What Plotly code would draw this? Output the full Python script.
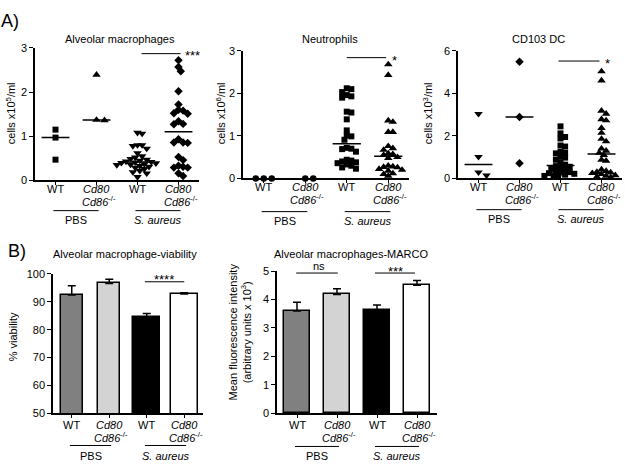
import numpy as np
import plotly.graph_objects as go

# ---------------- data ----------------
CATEGORIES = ["WT", "Cd80 Cd86-/-", "WT", "Cd80 Cd86-/-"]
LABEL_LINE1 = ["WT", "<i>Cd80</i>", "WT", "<i>Cd80</i>"]
LABEL_LINE2 = ["", "<i>Cd86</i><sup>-/-</sup>", "", "<i>Cd86</i><sup>-/-</sup>"]
TREATMENTS = ["PBS", "<i>S. aureus</i>"]

# Alveolar macrophages (cells x10^5/ml)
am_wt_pbs = [1.15, 0.97, 0.47]
am_ko_pbs = [2.39, 1.36, 1.37]
am_wt_sa = [1.08, 1.06, 0.80, 0.80, 0.78, 0.72, 0.62, 0.55, 0.52, 0.49, 0.47, 0.45, 0.43, 0.42,
            0.41, 0.40, 0.39, 0.37, 0.36, 0.35, 0.33, 0.31, 0.29, 0.26, 0.22, 0.19, 0.16, 0.08]
am_ko_sa = [2.72, 2.57, 2.47, 2.02, 1.72, 1.60, 1.58, 1.52, 1.51, 1.34, 1.28, 1.27,
            0.93, 0.86, 0.86, 0.85, 0.53, 0.46, 0.33, 0.31, 0.29, 0.29, 0.16, 0.10]

# Neutrophils (cells x10^6/ml)
neu_wt_pbs = [0.0, 0.0, 0.0]
neu_ko_pbs = [0.0, 0.0]
neu_wt_sa = [2.12, 2.10, 2.03, 1.96, 1.93, 1.90, 1.57, 1.55, 1.39, 1.13, 1.01, 0.99, 0.91,
             0.72, 0.70, 0.69, 0.63, 0.44, 0.42, 0.40, 0.38, 0.36, 0.33, 0.30, 0.26, 0.23]
neu_ko_sa = [2.68, 2.43, 1.36, 1.33, 1.09, 1.09, 0.76, 0.71, 0.67, 0.59, 0.57, 0.55,
             0.50, 0.48, 0.30, 0.28, 0.27, 0.26, 0.22, 0.20, 0.18, 0.12, 0.10, 0.06]

# CD103 DC (cells x10^3/ml)
dc_wt_pbs = [3.04, 1.02, 0.29, 0.15]
dc_ko_pbs = [5.49, 2.89, 0.72]
dc_wt_sa = [2.45, 2.12, 1.95, 1.88, 1.55, 1.50, 1.25, 1.20, 1.18, 1.02, 0.98, 0.88, 0.75, 0.65,
            0.58, 0.55, 0.50, 0.45, 0.40, 0.35, 0.30, 0.28, 0.25, 0.22, 0.18, 0.15, 0.12, 0.08]
dc_ko_sa = [5.03, 4.60, 3.18, 3.04, 2.78, 2.73, 2.37, 2.14, 1.86, 1.74, 1.40, 1.30, 1.20,
            1.10, 0.88, 0.83, 0.42, 0.35, 0.30, 0.28, 0.25, 0.20, 0.15, 0.12, 0.08, 0.05]

# Bar panels
viab_mean = [92.5, 96.6, 84.5, 92.8]
viab_sem = [3.3, 1.5, 1.3, 0.5]
marco_mean = [3.60, 4.18, 3.63, 4.50]
marco_sem = [0.30, 0.20, 0.18, 0.17]

# ---------------- helpers ----------------
W, H = 625, 470
FONT = "Arial, Liberation Sans, sans-serif"


def px(xp):
    return xp / W


def py(yp):
    return 1 - yp / H


def swarm(vals, ppy, ppx):
    """simple beeswarm layout (pixel space) -> horizontal offsets in category units"""
    vals = np.asarray(vals, float)
    d = 8.0 if len(vals) <= 4 else 4.6
    ys = vals * ppy
    xs = np.zeros(len(vals))
    placed = []
    cands = [0.0]
    for j in range(1, 40):
        cands += [j * d * 0.5, -j * d * 0.5]
    for i in np.argsort(-vals, kind="stable"):
        for c in cands:
            if all((c - a) ** 2 + (ys[i] - b) ** 2 >= d * d for a, b in placed):
                break
        xs[i] = c
        placed.append((c, ys[i]))
    return xs / ppx


fig = go.Figure()
axis_common = dict(showline=True, linecolor="black", linewidth=1.5, ticks="outside",
                   tickcolor="black", tickwidth=1.2, showgrid=False, zeroline=False,
                   tickfont=dict(family=FONT, size=11, color="black"))

annotations = []
shapes = []


def text(x, y, t, size=11, xref="paper", yref="paper", angle=0, xanchor="center",
         yanchor="middle"):
    annotations.append(dict(x=x, y=y, text=t, xref=xref, yref=yref, showarrow=False,
                            textangle=angle, xanchor=xanchor, yanchor=yanchor,
                            font=dict(family=FONT, size=size, color="black")))


def line(x0, x1, y0, y1, xref, yref, w=1):
    shapes.append(dict(type="line", x0=x0, x1=x1, y0=y0, y1=y1, xref=xref, yref=yref,
                       line=dict(color="black", width=w)))


panels_scatter = [
    ("x", "y", [am_wt_pbs, am_ko_pbs, am_wt_sa, am_ko_sa],
     ["square", "triangle-up", "triangle-down", "diamond"], (35, 199), (179, 43), 3, [0, 1, 2, 3]),
    ("x2", "y2", [neu_wt_pbs, neu_ko_pbs, neu_wt_sa, neu_ko_sa],
     ["circle", "circle", "square", "triangle-up"], (243, 409), (177, 46), 3, [0, 1, 2, 3]),
    ("x3", "y3", [dc_wt_pbs, dc_ko_pbs, dc_wt_sa, dc_ko_sa],
     ["triangle-down", "diamond", "square", "triangle-up"], (458, 622), (177, 46), 6, [0, 2, 4, 6]),
]
SYM_SIZE = {"square": 6, "triangle-up": 7.5, "triangle-down": 7.5, "diamond": 6.5, "circle": 6.5}

layout_axes = {}
for k, (xa, ya, groups, syms, dx, dy, ymax, yt) in enumerate(panels_scatter):
    ppx = (dx[1] - dx[0]) / 4.0
    ppy = (dy[0] - dy[1]) / ymax
    for i, (vals, sym) in enumerate(zip(groups, syms)):
        off = swarm(vals, ppy, ppx)
        fig.add_trace(go.Scatter(x=i + off, y=vals, mode="markers", xaxis=xa, yaxis=ya,
                                 cliponaxis=False, name=CATEGORIES[i],
                                 marker=dict(symbol=sym, size=SYM_SIZE[sym], color="black",
                                             line=dict(width=0))))
        med = float(np.median(vals))
        if med > 0:
            fig.add_trace(go.Scatter(x=[i - 0.34, i + 0.34], y=[med, med], mode="lines",
                                     xaxis=xa, yaxis=ya, cliponaxis=False,
                                     line=dict(color="black", width=1.5)))
    n = "" if k == 0 else str(k + 1)
    layout_axes["xaxis" + n] = dict(axis_common, domain=[px(dx[0]), px(dx[1])], range=[-0.5, 3.5],
                                    anchor=ya, tickvals=[0, 1, 2, 3], showticklabels=False,
                                    ticklen=3)
    layout_axes["yaxis" + n] = dict(axis_common, domain=[py(dy[0]), py(dy[1])], range=[0, ymax],
                                    anchor=xa, tickvals=yt, ticklen=4)
    base = dy[0]
    for i in range(4):
        text(i, py(base + 9), LABEL_LINE1[i], xref=xa)
        if LABEL_LINE2[i]:
            text(i + 0.05, py(base + 21), LABEL_LINE2[i], xref=xa)

# Bar panels
bar_panels = [
    ("x4", "y4", viab_mean, viab_sem, (53, 203), (418, 275), [50, 100], [50, 60, 70, 80, 90, 100],
     [0.58, 0.58, 0.72, 0.72]),
    ("x5", "y5", marco_mean, marco_sem, (277, 437), (418, 272), [0, 5], [0, 1, 2, 3, 4, 5],
     [0.65, 0.65, 0.65, 0.65]),
]
BAR_COLORS = ["#808080", "#d3d3d3", "#000000", "#ffffff"]
for k, (xa, ya, mean, sem, dx, dy, yr, yt, wd) in enumerate(bar_panels):
    fig.add_trace(go.Bar(x=[0, 1, 2, 3], y=mean, width=wd, xaxis=xa, yaxis=ya,
                         marker=dict(color=BAR_COLORS, line=dict(color="black", width=1.5)),
                         error_y=dict(type="data", array=sem, arrayminus=[0] * 4, symmetric=False,
                                      color="black", thickness=1.5, width=4)))
    n = str(k + 4)
    layout_axes["xaxis" + n] = dict(axis_common, domain=[px(dx[0]), px(dx[1])], range=[-0.5, 3.5],
                                    anchor=ya, tickvals=[0, 1, 2, 3], showticklabels=False,
                                    ticklen=3)
    layout_axes["yaxis" + n] = dict(axis_common, domain=[py(dy[0]), py(dy[1])], range=yr,
                                    anchor=xa, tickvals=yt, ticklen=4)
    base = dy[0]
    for i in range(4):
        text(i, py(base + 12), LABEL_LINE1[i], xref=xa)
        if LABEL_LINE2[i]:
            text(i + 0.05, py(base + 24), LABEL_LINE2[i], xref=xa)

# panel letters
text(px(10), py(15), "A)", size=18)
text(px(17), py(251), "B)", size=18)

# titles
text(px(120), py(34), "Alveolar macrophages")
text(px(330), py(34), "Neutrophils")
text(px(538), py(34), "CD103 DC")
text(px(125), py(254), "Alveolar macrophage-viability")
text(px(351), py(254), "Alveolar macrophages-MARCO")

# y-axis titles
text(px(11), py(110), "cells x10<sup>5</sup>/ml", angle=-90)
text(px(221), py(110), "cells x10<sup>6</sup>/ml", angle=-90)
text(px(428), py(110), "cells x10<sup>3</sup>/ml", angle=-90)
text(px(13), py(340), "% viability", angle=-90)
text(px(240), py(335), "Mean fluorescence intensity<br>(arbitrary units x 10<sup>3</sup>)", angle=-90)

# treatment group underlines and labels
for xa, ly, ty in [("x", 210, 220), ("x2", 211, 221), ("x3", 209, 219),
                   ("x4", 451, 462), ("x5", 452, 462)]:
    for (a, b), lab in zip([(-0.05, 1.05), (1.95, 3.05)], TREATMENTS):
        line(a, b, py(ly), py(ly), xa, "paper")
        text((a + b) / 2, py(ty), lab, xref=xa)

# significance bars
line(2.1, 3.05, 2.87, 2.87, "x", "y")
text(3.12, 2.82, "***", size=13, xref="x", yref="y", xanchor="left")
line(2.0, 2.95, 2.84, 2.84, "x2", "y2")
text(3.03, 2.78, "*", size=13, xref="x2", yref="y2", xanchor="left")
line(1.95, 2.95, 5.52, 5.52, "x3", "y3")
text(3.03, 5.40, "*", size=13, xref="x3", yref="y3", xanchor="left")
line(1.95, 3.0, 97.2, 97.2, "x4", "y4")
text(2.47, 97.9, "****", size=13, xref="x4", yref="y4")
line(-0.02, 1.02, 4.93, 4.93, "x5", "y5")
text(0.55, py(267), "ns", size=11, xref="x5", yref="paper")
line(1.95, 2.95, 4.93, 4.93, "x5", "y5")
text(2.45, 5.0, "***", size=13, xref="x5", yref="y5")

fig.update_layout(width=W, height=H, margin=dict(l=0, r=0, t=0, b=0), autosize=False,
                  paper_bgcolor="white", plot_bgcolor="white", showlegend=False,
                  bargap=0, annotations=annotations, shapes=shapes,
                  font=dict(family=FONT, size=11, color="black"), **layout_axes)

fig.write_html("out.html", config={"responsive": False, "displayModeBar": False},
               default_width="625px", default_height="470px",
               post_script="document.body.style.margin='0';document.body.style.overflow='hidden';")
